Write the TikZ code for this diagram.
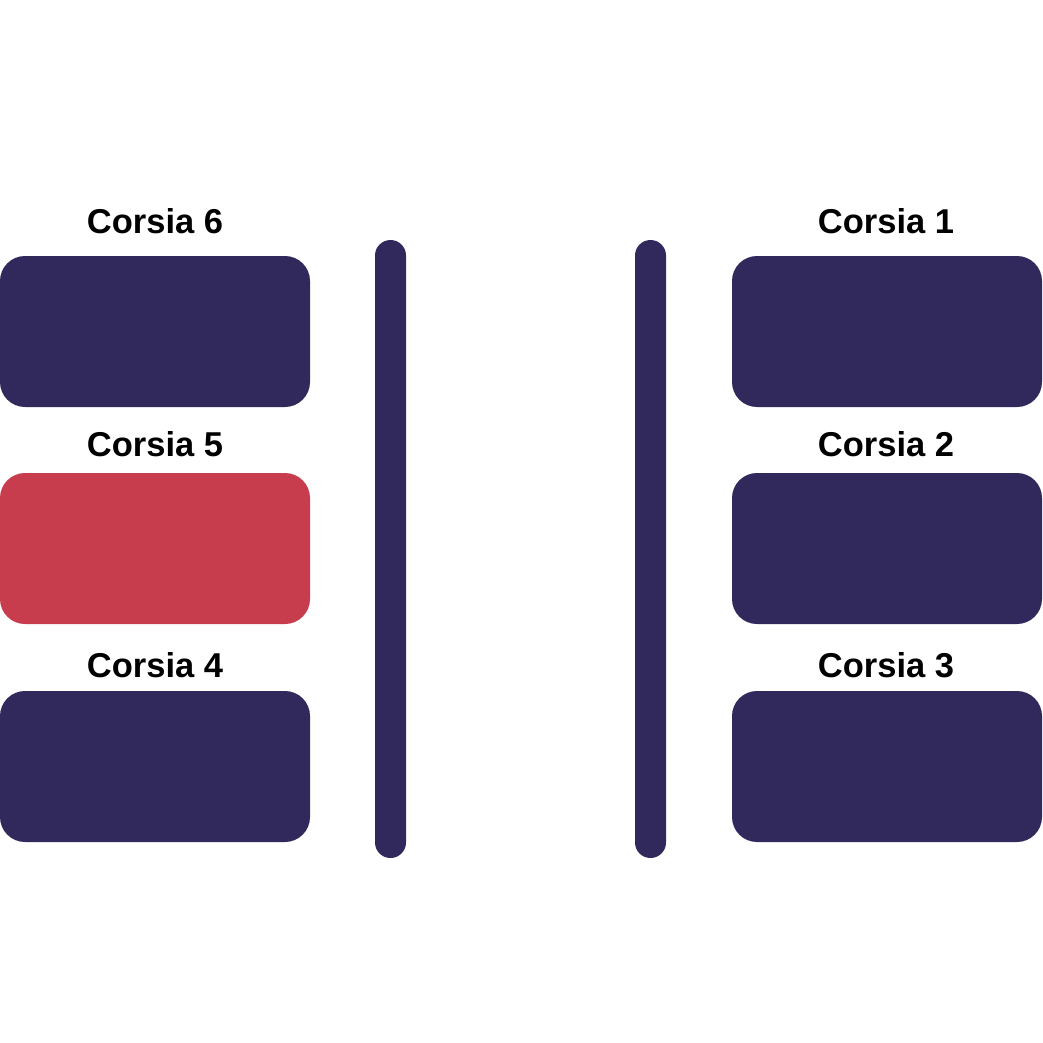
\documentclass[tikz,border=0pt]{standalone}
\usepackage{fontspec}
\setmainfont{Liberation Sans}
\definecolor{navy}{HTML}{31295C}
\definecolor{lanered}{HTML}{C73D4E}
\begin{document}
\begin{tikzpicture}[x=1pt,y=-1pt,
  lanebox/.style={draw=none,fill=navy,rounded corners=25pt,minimum width=310pt,minimum height=151pt,inner sep=0pt,outer sep=0pt},
  barbox/.style={draw=none,fill=navy,rounded corners=15.5pt,minimum width=31pt,minimum height=618pt,inner sep=0pt,outer sep=0pt},
  lanelabel/.style={anchor=base,inner sep=0pt,font=\fontsize{34.5}{40}\selectfont\bfseries,text=black}]
\useasboundingbox (0,0) rectangle (1042,1043);
% left column
\node[lanebox] (c6) at (155,331.5) {};
\node[lanebox,fill=lanered] (c5) at (155,548.5) {};
\node[lanebox] (c4) at (155,766.5) {};
% right column
\node[lanebox] (c1) at (887,331.5) {};
\node[lanebox] (c2) at (887,548.5) {};
\node[lanebox] (c3) at (887,766.5) {};
% bars
\node[barbox] (bl) at (390.5,549) {};
\node[barbox] (br) at (650.5,549) {};
% labels
\node[lanelabel] (l6) at (155,233) {Corsia 6};
\node[lanelabel] (l5) at (155,456) {Corsia 5};
\node[lanelabel] (l4) at (155,677) {Corsia 4};
\node[lanelabel] (l1) at (886,233) {Corsia 1};
\node[lanelabel] (l2) at (886,456) {Corsia 2};
\node[lanelabel] (l3) at (886,677) {Corsia 3};
\end{tikzpicture}
\end{document}
